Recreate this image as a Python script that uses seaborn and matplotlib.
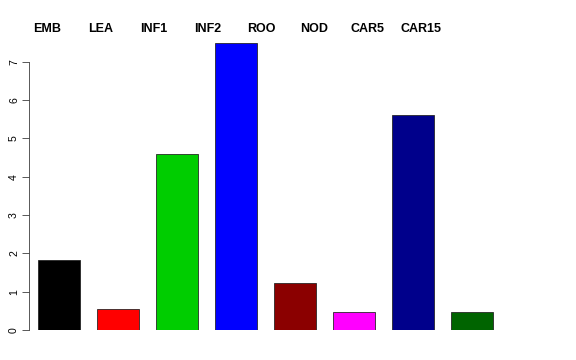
import pandas as pd
import seaborn as sns
import matplotlib.pyplot as plt

# --- Data ---
tissues = ["EMB", "LEA", "INF1", "INF2", "ROO", "NOD", "CAR5", "CAR15"]
values = [1.83, 0.54, 4.58, 7.49, 1.22, 0.46, 5.60, 0.46]
colors = ["#000000", "#FF0000", "#00CD00", "#0000FF",
          "#8B0000", "#FF00FF", "#00008B", "#006400"]

df = pd.DataFrame({"tissue": tissues, "value": values})

# --- Plotting ---
sns.set_theme(style="white")
plt.rcParams['font.family'] = ['Liberation Sans', 'DejaVu Sans']
plt.rcParams['text.color'] = 'black'

fig = plt.figure(figsize=(8, 5), dpi=72)
ax = fig.add_axes([29 / 576, 30 / 360, 478 / 576, 299 / 360])

sns.barplot(ax=ax, data=df, x="tissue", y="value", hue="tissue",
            palette=colors, legend=False, width=0.71,
            edgecolor="#222222", linewidth=0.8, saturation=1)

ax.set_xlim(-0.508, 7.6)
ax.set_ylim(0, 7.8)
ax.set_xlabel("")
ax.set_ylabel("")
ax.set_xticks([])
ax.set_yticks(range(0, 8))
ax.tick_params(axis="y", length=7, width=0.8, color="#333333",
               labelsize=10.5, pad=3, labelcolor="black", left=True)
for lab in ax.get_yticklabels():
    lab.set_rotation(90)
    lab.set_va("center")

for side in ["top", "right", "bottom"]:
    ax.spines[side].set_visible(False)
ax.spines["left"].set_bounds(0, 7)
ax.spines["left"].set_color("#333333")
ax.spines["left"].set_linewidth(0.8)

# group labels across the top
for i, name in enumerate(tissues):
    ax.text(-0.2 + 0.907 * i, 7.86, name, ha="center", va="center",
            fontsize=12.5, fontweight="bold", color="black", clip_on=False)

plt.savefig("out.png", dpi=72)
